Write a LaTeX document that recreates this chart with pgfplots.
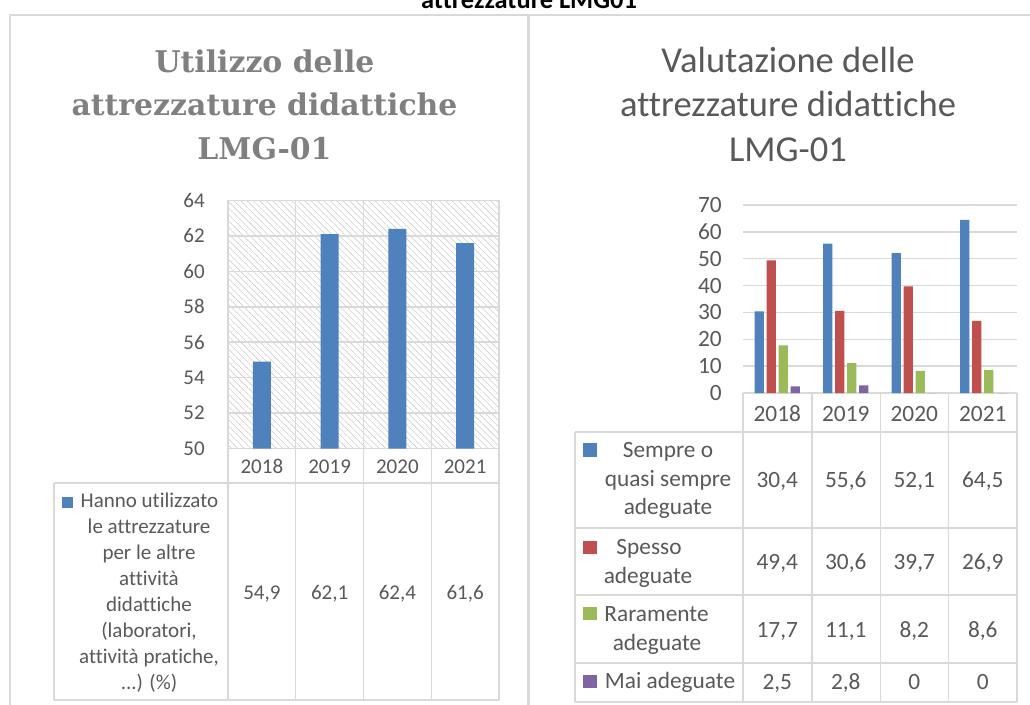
\documentclass[border=0pt]{standalone}
\usepackage{pgfplots}
\pgfplotsset{compat=1.18}
\usepackage{pgfplotstable}
\usepackage{fontspec}
\setmainfont{Carlito}[Ligatures=NoCommon]
\newfontfamily\titleserif{DejaVu Serif}
\usetikzlibrary{patterns.meta}
\definecolor{textgray}{HTML}{595959}
\definecolor{gridgray}{HTML}{D9D9D9}
\definecolor{hatchgray}{HTML}{CFCFCF}
\definecolor{titlegray}{HTML}{808080}
\definecolor{cblue}{HTML}{4F81BD}
\definecolor{cred}{HTML}{C0504D}
\definecolor{cgreen}{HTML}{9BBB59}
\definecolor{cpurple}{HTML}{8064A2}

\pgfplotstableread{
x v
0 54.9
1 62.1
2 62.4
3 61.6
}\tabuso

\pgfplotstableread{
x sempre spesso raramente mai
0 30.4 49.4 17.7 2.5
1 55.6 30.6 11.1 2.8
2 52.1 39.7 8.2 0
3 64.5 26.9 8.6 0
}\tabval

\newcommand{\lf}{\fontsize{15.75}{18}\selectfont}
\newcommand{\rf}{\fontsize{17.5}{21}\selectfont}

\pgfplotsset{
  valnodes/.style={draw=none, mark=none, point meta=explicit,
    nodes near coords={\pgfmathprintnumber[use comma, fixed, precision=1, assume math mode=true]{\pgfplotspointmeta}},
    nodes near coords style={anchor=base, inner sep=0pt, text=textgray, font=#1}},
}

\begin{document}
\begin{tikzpicture}[x=0.75pt,y=-0.75pt]
\path[use as bounding box, clip] (0,0) rectangle (1030,704);
\fill[white] (0,0) rectangle (1030,704);
\coordinate (LA) at (228,448.5);
\coordinate (RA) at (743,393);
% panel frames
\draw[gridgray, line width=1.5pt] (10,710) -- (10,15) -- (1040,15);
\draw[gridgray, line width=2pt] (528.5,15) -- (528.5,710);
% top (cut) title
\node[anchor=base, inner sep=0pt, font=\bfseries\fontsize{19.8}{24}\selectfont, text=black] at (529,8.3) {attrezzature LMG01};

% left title
\begin{scope}[every node/.style={anchor=base, inner sep=0pt, font=\titleserif\bfseries\fontsize{22.4}{26}\selectfont, text=titlegray}]
\node at (264.5,72) {Utilizzo delle};
\node at (264.5,115) {attrezzature didattiche};
\node at (264.5,159) {LMG-01};
\end{scope}

% right title
\begin{scope}[every node/.style={anchor=base, inner sep=0pt, font=\fontsize{27.4}{33}\selectfont, text=textgray}]
\node at (788,72) {Valutazione delle};
\node at (788,116.5) {attrezzature didattiche};
\node at (788,161) {LMG-01};
\end{scope}

% ---------- left chart ----------
\begin{axis}[at={(LA)}, anchor=south west, scale only axis,
  width=203.25pt, height=186pt,
  xmin=-0.5, xmax=3.5, ymin=50, ymax=64,
  ytick={50,52,...,64}, xtick={0,1,2,3}, xticklabels={2018,2019,2020,2021},
  major tick length=0pt, ymajorgrids,
  grid style={gridgray, line width=1.1pt},
  axis line style={gridgray, line width=1.1pt},
  axis background/.style={pattern={Lines[angle=-45,distance=3.4pt,line width=0.45pt]}, pattern color=hatchgray},
  ticklabel style={font=\lf, text=textgray},
  yticklabel style={anchor=east, inner sep=0pt, xshift=-17.25pt},
  xticklabel style={anchor=base, inner sep=0pt, yshift=-18.4pt},
  /pgf/number format/assume math mode=true,
  ybar, bar width=13.5pt]
\addplot[fill=cblue, draw=none] table[x=x, y=v]{\tabuso};
\end{axis}
\begin{axis}[at={(LA)}, anchor=south west, scale only axis,
  width=203.25pt, height=186pt,
  xmin=-0.5, xmax=3.5, ymin=50, ymax=64, hide axis, clip=false]
\addplot[valnodes=\lf] table[x=x, y expr=41.49, meta=v]{\tabuso};
\end{axis}

% left table grid
\begin{scope}[gridgray, line width=1.1pt]
\draw (295.75,200.5) -- (295.75,700);
\draw (363.5,200.5) -- (363.5,700);
\draw (431.25,200.5) -- (431.25,700);
\draw (499,200.5) -- (499,700);
\draw (228,448.5) -- (228,700);
\draw (54,483) -- (54,700);
\draw (54,483) -- (499,483);
\draw (54,700) -- (499,700);
\end{scope}
\fill[cblue] (62,497) rectangle (73,508);
\begin{scope}[every node/.style={anchor=base, inner sep=0pt, font=\lf, text=textgray}]
\node at (149.5,507) {Hanno utilizzato};
\node at (149,533) {le attrezzature};
\node at (149,559) {per le altre};
\node at (149,585) {attività};
\node at (149,611) {didattiche};
\node at (149,637) {(laboratori,};
\node at (149,663) {attività pratiche,};
\node at (149,689) {...) (\%)};
\end{scope}

% ---------- right chart ----------
\begin{axis}[at={(RA)}, anchor=south west, scale only axis,
  width=205.5pt, height=141pt,
  xmin=-0.5, xmax=3.5, ymin=0, ymax=70,
  ytick={0,10,...,70}, xtick={0,1,2,3}, xticklabels={2018,2019,2020,2021},
  major tick length=0pt, ymajorgrids,
  grid style={gridgray, line width=1.1pt},
  axis line style={draw=none},
  ticklabel style={font=\rf, text=textgray},
  yticklabel style={anchor=east, inner sep=0pt, xshift=-15.75pt},
  xticklabel style={anchor=base, inner sep=0pt, yshift=-21pt},
  /pgf/number format/assume math mode=true,
  ybar=1.9pt, bar width=7.1pt]
\addplot[fill=cblue, draw=none] table[x=x, y=sempre]{\tabval};
\addplot[fill=cred, draw=none] table[x=x, y=spesso]{\tabval};
\addplot[fill=cgreen, draw=none] table[x=x, y=raramente]{\tabval};
\addplot[fill=cpurple, draw=none] table[x=x, y=mai]{\tabval};
\end{axis}
\begin{axis}[at={(RA)}, anchor=south west, scale only axis,
  width=205.5pt, height=141pt,
  xmin=-0.5, xmax=3.5, ymin=0, ymax=70, hide axis, clip=false]
\addplot[valnodes=\rf] table[x=x, y expr=-35.26, meta=sempre]{\tabval};
\addplot[valnodes=\rf] table[x=x, y expr=-65.53, meta=spesso]{\tabval};
\addplot[valnodes=\rf] table[x=x, y expr=-90.96, meta=raramente]{\tabval};
\addplot[valnodes=\rf] table[x=x, y expr=-110.33, meta=mai]{\tabval};
\end{axis}

% right table grid
\begin{scope}[gridgray, line width=1.1pt]
\foreach \xx in {743,812,880.5,948.5,1017} {\draw (\xx,393) -- (\xx,702);}
\draw (575,432) -- (575,702);
\foreach \yy in {432,528,595,663,702} {\draw (575,\yy) -- (1017,\yy);}
\end{scope}
\fill[cblue] (583,443) rectangle (597,457);
\fill[cred] (583,541) rectangle (597,554);
\fill[cgreen] (583,607) rectangle (597,620);
\fill[cpurple] (583,675) rectangle (597,688);
\begin{scope}[every node/.style={anchor=base, inner sep=0pt, font=\rf, text=textgray}]
\node at (668,457) {Sempre o};
\node at (668,486) {quasi sempre};
\node at (668,514) {adeguate};
\node at (649,554) {Spesso};
\node at (648,583) {adeguate};
\node at (656.5,621) {Raramente};
\node at (657,650) {adeguate};
\node at (670,688) {Mai adeguate};
\end{scope}
\end{tikzpicture}
\end{document}
